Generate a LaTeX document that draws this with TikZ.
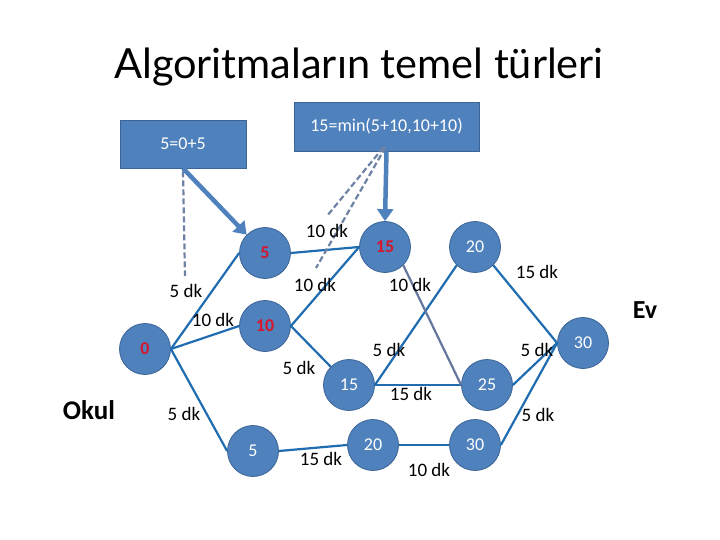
\documentclass[tikz,border=0pt]{standalone}
\usepackage{fontspec}
\setmainfont{Carlito}
\newfontfamily\titlefont{Lato}
\usetikzlibrary{arrows.meta}
\definecolor{nodeblue}{RGB}{79,129,189}
\definecolor{nodeborder}{RGB}{60,100,150}
\definecolor{edgeblue}{RGB}{31,108,176}
\definecolor{edgegray}{RGB}{100,118,158}
\definecolor{dashgray}{RGB}{110,130,165}
\definecolor{redtxt}{RGB}{214,22,44}
\tikzset{
  vtx/.style={circle, fill=nodeblue, draw=nodeborder, line width=0.8pt, minimum size=51pt, inner sep=0pt, text=white, font=\fontsize{18}{20}\selectfont},
  redv/.style={vtx, text=redtxt, font=\fontsize{18}{20}\selectfont\bfseries},
  edge/.style={draw=edgeblue, line width=2.2pt},
  lbl/.style={font=\fontsize{19}{21}\selectfont, text=black, inner sep=0pt},
  infobox/.style={rectangle, fill=nodeblue, draw=nodeborder, line width=0.6pt, text=white, font=\fontsize{18}{20}\selectfont, inner sep=0pt},
  bigarrow/.style={draw=nodeblue, line width=4.5pt, -{Triangle[length=12pt,width=16pt]}},
  dashline/.style={draw=dashgray, line width=2.2pt, dash pattern=on 6pt off 3pt}
}
\begin{document}
\begin{tikzpicture}[x=1pt,y=-1pt]
\useasboundingbox (0,0) rectangle (720,540);
\node[font=\titlefont\fontsize{41.5}{46}\selectfont] (title) at (359,67) {Algoritmaların temel türleri};

% boxes
\node[infobox, minimum width=126pt, minimum height=48pt] (b1) at (183,144) {5=0+5};
\node[infobox, minimum width=185pt, minimum height=49pt] (b2) at (386.5,126.5) {15=min(5+10,10+10)};

% vertices
\node[redv] (v0) at (145,349) {0};
\node[redv] (v5t) at (265,253) {5};
\node[redv] (v10) at (265,326) {10};
\node[redv] (v15r) at (385,247) {15};
\node[vtx] (v20t) at (475,247) {20};
\node[vtx] (v30r) at (583,343) {30};
\node[vtx] (v15m) at (349,385) {15};
\node[vtx] (v25) at (487,385) {25};
\node[vtx] (v5b) at (253,451) {5};
\node[vtx] (v20b) at (373,445) {20};
\node[vtx] (v30b) at (475,445) {30};

% edges
\draw[edge] (v0.east) -- (v5t.west);
\draw[edge] (v0.east) -- (v10.west);
\draw[edge] (v0.east) -- (v5b.west);
\draw[edge] (v5t.east) -- (v15r.west);
\draw[edge] (v10.east) -- (v15r.west);
\draw[edge] (v10.east) -- (v15m.north west);
\draw[edge] (v15m.east) -- (v20t.south west);
\draw[edge] (v15m.east) -- (v25.west);
\draw[draw=edgegray, line width=2.2pt] (v15r.south east) -- (v25.west);
\draw[edge] (v20t.south east) -- (v30r.west);
\draw[edge] (v25.east) -- (v30r.west);
\draw[edge] (v30b.east) -- (v30r.west);
\draw[edge] (v5b.east) -- (v20b.west);
\draw[edge] (v20b.east) -- (v30b.west);

% annotation arrows
\coordinate (d1end) at (185,276);
\coordinate (d2end) at (327,216);
\coordinate (d3end) at (316,268);
\draw[dashline] (b1.south) ++(0,3) -- (d1end);
\draw[bigarrow] (b1.south) -- (v5t.north west);
\draw[dashline] ([xshift=-3pt,yshift=4pt]b2.south) -- (d2end);
\draw[dashline] ([xshift=-1pt,yshift=4pt]b2.south) -- (d3end);
\draw[bigarrow] (b2.south) -- (v15r.north);

% labels
\node[lbl] (l1) at (327,231) {10 dk};
\node[lbl] (l2) at (186,291) {5 dk};
\node[lbl] (l3) at (315,285) {10 dk};
\node[lbl] (l4) at (410,285) {10 dk};
\node[lbl] (l5) at (537,272) {15 dk};
\node[lbl] (l6) at (213,320) {10 dk};
\node[lbl] (l7) at (389,350) {5 dk};
\node[lbl] (l8) at (537,350) {5 dk};
\node[lbl] (l9) at (299,368) {5 dk};
\node[lbl] (l10) at (411,394) {15 dk};
\node[lbl] (l11) at (184,414) {5 dk};
\node[lbl] (l12) at (538,415) {5 dk};
\node[lbl] (l13) at (321,459) {15 dk};
\node[lbl] (l14) at (429,470) {10 dk};

\node[font=\fontsize{27}{30}\selectfont\bfseries] (okul) at (89,410) {Okul};
\node[font=\fontsize{26}{30}\selectfont\bfseries] (ev) at (645,310) {Ev};
\end{tikzpicture}
\end{document}
